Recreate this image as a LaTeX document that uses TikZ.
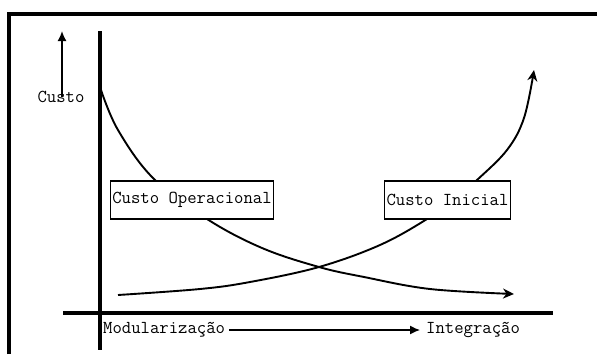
\documentclass[tikz,border=0pt]{standalone}
\usepackage{fontspec}
\usetikzlibrary{arrows.meta}
\begin{document}
\begin{tikzpicture}[x=1pt,y=-1pt,
  lbl/.style={font=\ttfamily\fontsize{18.2}{20}\selectfont, inner sep=2pt},
  lblbox/.style={lbl, draw, line width=1.3pt, fill=white, minimum height=38pt, inner xsep=2pt},
  axis/.style={line width=3.4pt},
  curve/.style={line width=1.9pt},
  tip/.style={-{Stealth[length=11pt,width=10pt]}}
]
\useasboundingbox (0,0) rectangle (597,354);
% frame
\draw[line width=3.2pt] (9,354) -- (9,14) -- (597,14);
% axes
\coordinate (vtop) at (100,31);
\coordinate (vbot) at (100,350);
\coordinate (hl) at (63,313);
\coordinate (hr) at (553,313);
\draw[axis] (vtop) -- (vbot);
\draw[axis] (hl) -- (hr);
% Custo label and arrow
\node[lbl] (custo) at (61,97) {Custo};
\coordinate (custotip) at (62,31);
\draw[line width=1.6pt, -{Latex[length=10pt,width=9pt]}] ([xshift=1pt,yshift=-8pt]custo.north) -- (custotip);
% curves
\draw[curve, tip] plot[smooth, tension=0.6] coordinates {(101,90) (118,130) (153,178) (207,219) (262,248) (319,267) (364,277) (430,289) (514,294)};
\draw[curve, tip] plot[smooth, tension=0.6] coordinates {(118,295) (200,289) (250,282) (319,267) (380,245) (427,219) (457,197) (477,180) (507,150) (524,118) (534,70)};
% boxes
\node[lblbox] (op) at (192,200) {Custo Operacional};
\node[lblbox] (ini) at (447.5,200) {Custo Inicial};
% bottom labels
\node[lbl, anchor=west, inner sep=0pt] (mod) at (103,330) {Modularização};
\node[lbl, anchor=west, inner sep=0pt] (int) at (426,330) {Integração};
\draw[line width=1.3pt, -{Latex[length=10pt,width=9pt]}] ([xshift=4pt]mod.east) -- ([xshift=-6pt]int.west);
\end{tikzpicture}
\end{document}
